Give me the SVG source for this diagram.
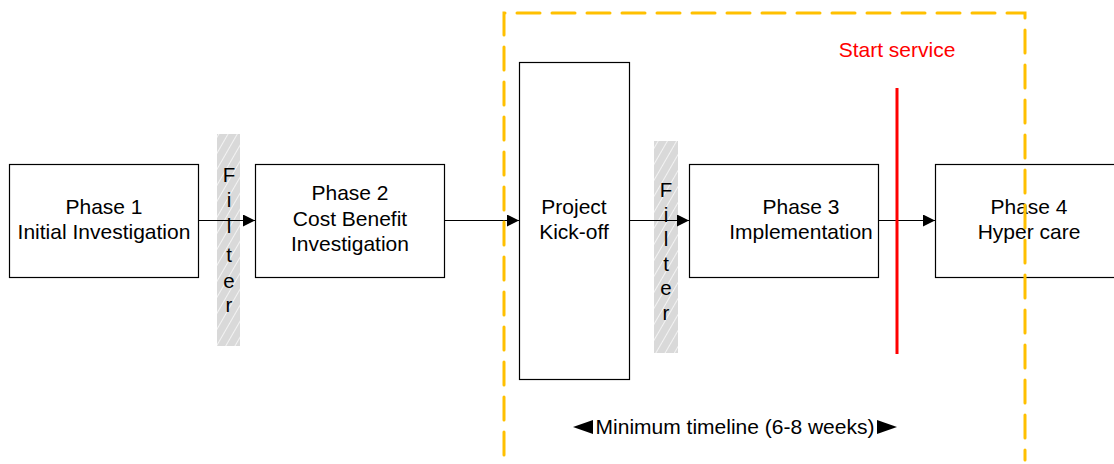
<svg xmlns="http://www.w3.org/2000/svg" width="1114" height="464" viewBox="0 0 1114 464">
  <defs>
    <pattern id="hatch" patternUnits="userSpaceOnUse" width="8" height="8" patternTransform="rotate(30)">
      <rect width="8" height="8" fill="#d9d9d9"/>
      <line x1="0" y1="0" x2="0" y2="8" stroke="#ffffff" stroke-width="1.4"/>
    </pattern>
    <marker id="arrow" viewBox="0 0 12 12" refX="12" refY="6" markerWidth="12" markerHeight="12" markerUnits="userSpaceOnUse" orient="auto">
      <path d="M0,0 L12,6 L0,12 Z" fill="#000"/>
    </marker>
  </defs>
  <style>
    .box { fill: #ffffff; stroke: #000000; stroke-width: 1.2; }
    .lbl { font-family: "Liberation Sans", Arial, sans-serif; font-size: 21px; fill: #000; text-anchor: middle; }
    .flt { font-family: "Liberation Sans", Arial, sans-serif; font-size: 20.5px; fill: #000; text-anchor: middle; }
    .conn { stroke: #000; stroke-width: 1.2; fill: none; marker-end: url(#arrow); }
  </style>
  <rect width="1114" height="464" fill="#ffffff"/>

  <!-- filter bars: one letter per row -->
  <g id="filter1">
    <rect x="217" y="134" width="23" height="212" fill="url(#hatch)"/>
    <text class="flt"><tspan x="229" y="182">F</tspan><tspan x="229" y="207">i</tspan><tspan x="229" y="233">l</tspan><tspan x="229" y="262">t</tspan><tspan x="229" y="288">e</tspan><tspan x="229" y="312">r</tspan></text>
  </g>
  <g id="filter2">
    <rect x="654" y="141" width="24" height="212" fill="url(#hatch)"/>
    <text class="flt"><tspan x="666" y="197">F</tspan><tspan x="666" y="221.5">i</tspan><tspan x="666" y="246">l</tspan><tspan x="666" y="270.5">t</tspan><tspan x="666" y="295">e</tspan><tspan x="666" y="319.5">r</tspan></text>
  </g>

  <!-- connectors -->
  <g id="connectors">
    <line class="conn" x1="198" y1="220.5" x2="255" y2="220.5"/>
    <line class="conn" x1="444" y1="220.5" x2="519" y2="220.5"/>
    <line class="conn" x1="629" y1="220.5" x2="689" y2="220.5"/>
    <line class="conn" x1="878" y1="220.5" x2="935" y2="220.5"/>
  </g>

  <g id="phase1">
    <rect class="box" x="9.5" y="164.5" width="189" height="113"/>
    <text class="lbl" x="104" y="214">Phase 1</text>
    <text class="lbl" x="104" y="239">Initial Investigation</text>
  </g>
  <g id="phase2">
    <rect class="box" x="255.5" y="164.5" width="189" height="113"/>
    <text class="lbl" x="350" y="200">Phase 2</text>
    <text class="lbl" x="350" y="226">Cost Benefit</text>
    <text class="lbl" x="350" y="251">Investigation</text>
  </g>
  <g id="kickoff">
    <rect class="box" x="519.5" y="62.5" width="110" height="317"/>
    <text class="lbl" x="574" y="214">Project</text>
    <text class="lbl" x="574" y="239">Kick-off</text>
  </g>
  <g id="phase3">
    <rect class="box" x="689.5" y="164.5" width="189" height="113"/>
    <text class="lbl" x="801" y="214">Phase 3</text>
    <text class="lbl" x="801" y="239">Implementation</text>
  </g>
  <g id="phase4">
    <rect class="box" x="935.5" y="164.5" width="189" height="113"/>
    <text class="lbl" x="1029" y="214">Phase 4</text>
    <text class="lbl" x="1029" y="239">Hyper care</text>
  </g>

  <!-- service start marker -->
  <g id="start-service">
    <line x1="897" y1="88" x2="897" y2="354" stroke="#ff0000" stroke-width="3"/>
    <text x="897" y="57" font-family="Liberation Sans, Arial, sans-serif" font-size="21" fill="#ff0000" text-anchor="middle">Start service</text>
  </g>

  <!-- minimum timeline frame -->
  <g id="timeline-frame">
    <path d="M504,460 L504,13 L1025,13 L1025,460" fill="none" stroke="#ffc000" stroke-width="3" stroke-dasharray="23 12" stroke-linecap="round" stroke-dashoffset="-5"/>
  </g>

  <g id="timeline-label">
    <polygon points="573,427 593,420 593,434" fill="#000"/>
    <text class="lbl" x="735" y="434">Minimum timeline (6-8 weeks)</text>
    <polygon points="897,427 877,420 877,434" fill="#000"/>
  </g>
</svg>
